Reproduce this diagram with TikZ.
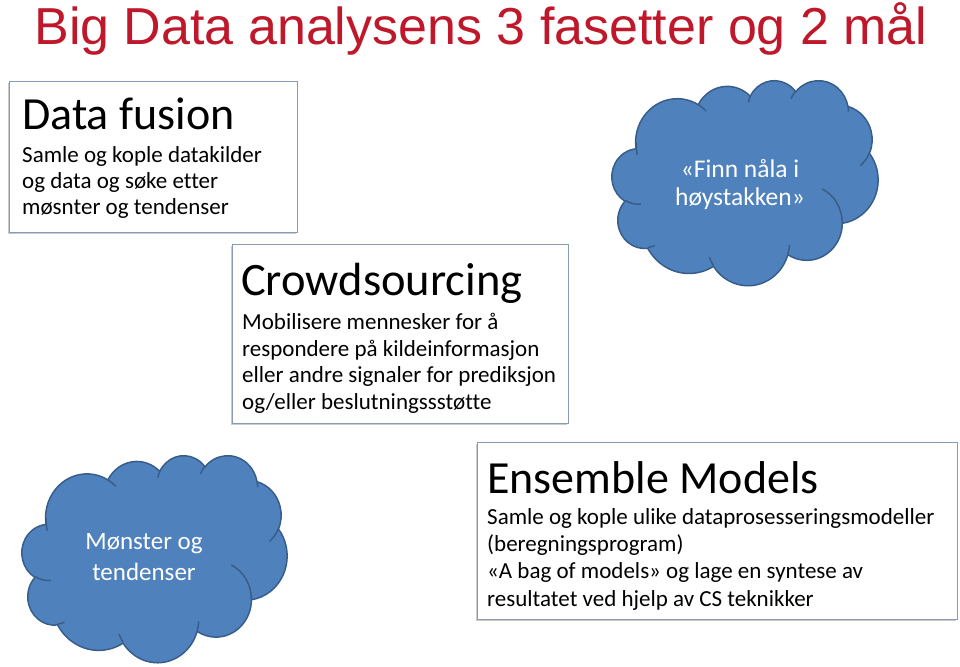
\documentclass[tikz,border=0pt]{standalone}
\usepackage{fontspec}
\setmainfont{Carlito}[Ligatures=NoCommon]
\newfontfamily\titlefont{Liberation Sans}
\usetikzlibrary{positioning,
        shadows}
\definecolor{titlered}{RGB}{190,24,42}
\definecolor{boxline}{RGB}{135,155,185}
\definecolor{cloudfill}{RGB}{79,129,189}
\definecolor{cloudline}{RGB}{56,93,138}

\tikzset{
    facetbox/.style={rectangle,draw=boxline,line width=1.2pt,fill=white,
        drop shadow={shadow xshift=-1.5pt,shadow yshift=-1.5pt,opacity=0.35,fill=black!60},
        anchor=north west,inner sep=0pt},
    facethead/.style={anchor=base west,inner sep=0pt},
    facetbody/.style={anchor=north west,inner sep=0pt,align=left},
    cloudtext/.style={text=white,align=center,inner sep=0pt},
    % bue med vinkler langs ellipsen: x-radius, y-radius, start, sveip
    oarc/.style n args={4}{x radius=#1,y radius=#2,
        start angle={atan2(#1*sin(#3),#2*cos(#3))},
        delta angle={mod(atan2(#1*sin(#3+#4),#2*cos(#3+#4))-atan2(#1*sin(#3),#2*cos(#3))+720,360)}}
}

% sky i en boks 100 x 100: venstre, topp, bredde, hoyde
\newcommand{\goalcloud}[4]{%
    \begin{scope}[shift={(#1,#2)},x=#3pt/100,y=-#4pt/100,line width=1.5pt]
        \filldraw[fill=cloudfill,draw=cloudline] (9.028,33.264)
            arc[oarc={15.632}{21.273}{-190.487}{123.781}]
            arc[oarc={12.345}{16.822}{-144.102}{89.945}]
            arc[oarc={10.104}{13.762}{-145.808}{99.723}]
            arc[oarc={11.243}{15.266}{-130.986}{117.242}]
            arc[oarc={12.345}{16.836}{-78.709}{109.027}]
            arc[oarc={15.683}{21.343}{-46.267}{130.269}]
            arc[oarc={13.391}{18.211}{0.625}{114.033}]
            arc[oarc={15.630}{21.331}{22.452}{115.173}]
            arc[oarc={17.870}{24.405}{66.243}{75.711}]
            arc[oarc={10.093}{13.699}{-274.942}{146.736}]
            arc[oarc={10.058}{13.762}{-246.829}{152.519}] -- cycle;
        % folder
        \draw[cloudline] (10.863,60.595) arc[oarc={10.058}{13.762}{86.742}{26.430}];
        \draw[cloudline] (16.037,80.785) arc[oarc={10.093}{13.699}{73.610}{11.447}];
        \draw[cloudline] (38.144,90.486) arc[oarc={15.630}{21.331}{137.624}{14.081}];
        \draw[cloudline] (66.729,80.442) arc[oarc={15.630}{21.331}{6.453}{15.998}];
        \draw[cloudline] (79.002,53.134) arc[oarc={13.391}{18.211}{-70.292}{70.917}];
        \draw[cloudline] (96.755,35.542) arc[oarc={12.345}{16.836}{30.318}{27.752}];
        \draw[cloudline] (88.713,12.560) arc[oarc={11.243}{15.266}{-13.744}{14.859}];
        \draw[cloudline] (67.310,9.148) arc[oarc={11.243}{15.266}{-149.181}{18.195}];
        \draw[cloudline] (51.252,10.926) arc[oarc={10.104}{13.762}{-163.494}{17.686}];
        \draw[cloudline] (32.407,12.019) arc[oarc={15.632}{21.273}{-66.707}{12.319}];
        \draw[cloudline] (9.553,36.549) arc[oarc={15.632}{21.273}{162.038}{21.898}];
    \end{scope}}

\begin{document}
\begin{tikzpicture}[x=1pt,y=-1pt]
            \useasboundingbox (0,0) rectangle (960,666);

            % tittel
            \node [anchor=base,text=titlered,font=\titlefont\fontsize{52}{58}\selectfont,inner sep=0pt] (title) at (481,45) {Big Data analysens 3 fasetter og 2 mål};

            % skyene
            \goalcloud{612}{80}{266}{205}
            \node [cloudtext,font=\fontsize{25.5}{28}\selectfont] (needle) at (740,185) {«Finn nåla i\\høystakken»};

            \goalcloud{22}{455}{265}{207}
            \node [cloudtext,font=\fontsize{25}{31}\selectfont] (pattern) at (144,557) {Mønster og\\tendenser};

            % Data fusion
            \node [facetbox,minimum width=288pt,minimum height=151pt] (fusion) at (9,81) {};
            \node [facethead,font=\fontsize{46}{52}\selectfont] (fusionhead) at (22,129) {Data fusion};
            \node [facetbody,font=\fontsize{23}{26}\selectfont] (fusionbody) at (22,146) {Samle og kople datakilder\\og data og søke etter\\møsnter og tendenser};

            % Crowdsourcing
            \node [facetbox,minimum width=336pt,minimum height=179pt] (crowd) at (232,244) {};
            \node [facethead,font=\fontsize{46.5}{52}\selectfont] (crowdhead) at (241,295) {Crowdsourcing};
            \node [facetbody,font=\fontsize{23}{26.7}\selectfont] (crowdbody) at (242,313) {Mobilisere mennesker for å\\respondere på kildeinformasjon\\eller andre signaler for prediksjon\\og/eller beslutningssstøtte};

            % Ensemble Models
            \node [facetbox,minimum width=480pt,minimum height=177pt] (ensemble) at (477,442) {};
            \node [facethead,font=\fontsize{46}{52}\selectfont] (ensemblehead) at (487,493) {Ensemble Models};
            \node [facetbody,font=\fontsize{23}{27.3}\selectfont] (ensemblebody) at (487,508) {Samle og kople ulike dataprosesseringsmodeller\\(beregningsprogram)\\«A bag of models» og lage en syntese av\\resultatet ved hjelp av CS teknikker};
        \end{tikzpicture}
\end{document}
